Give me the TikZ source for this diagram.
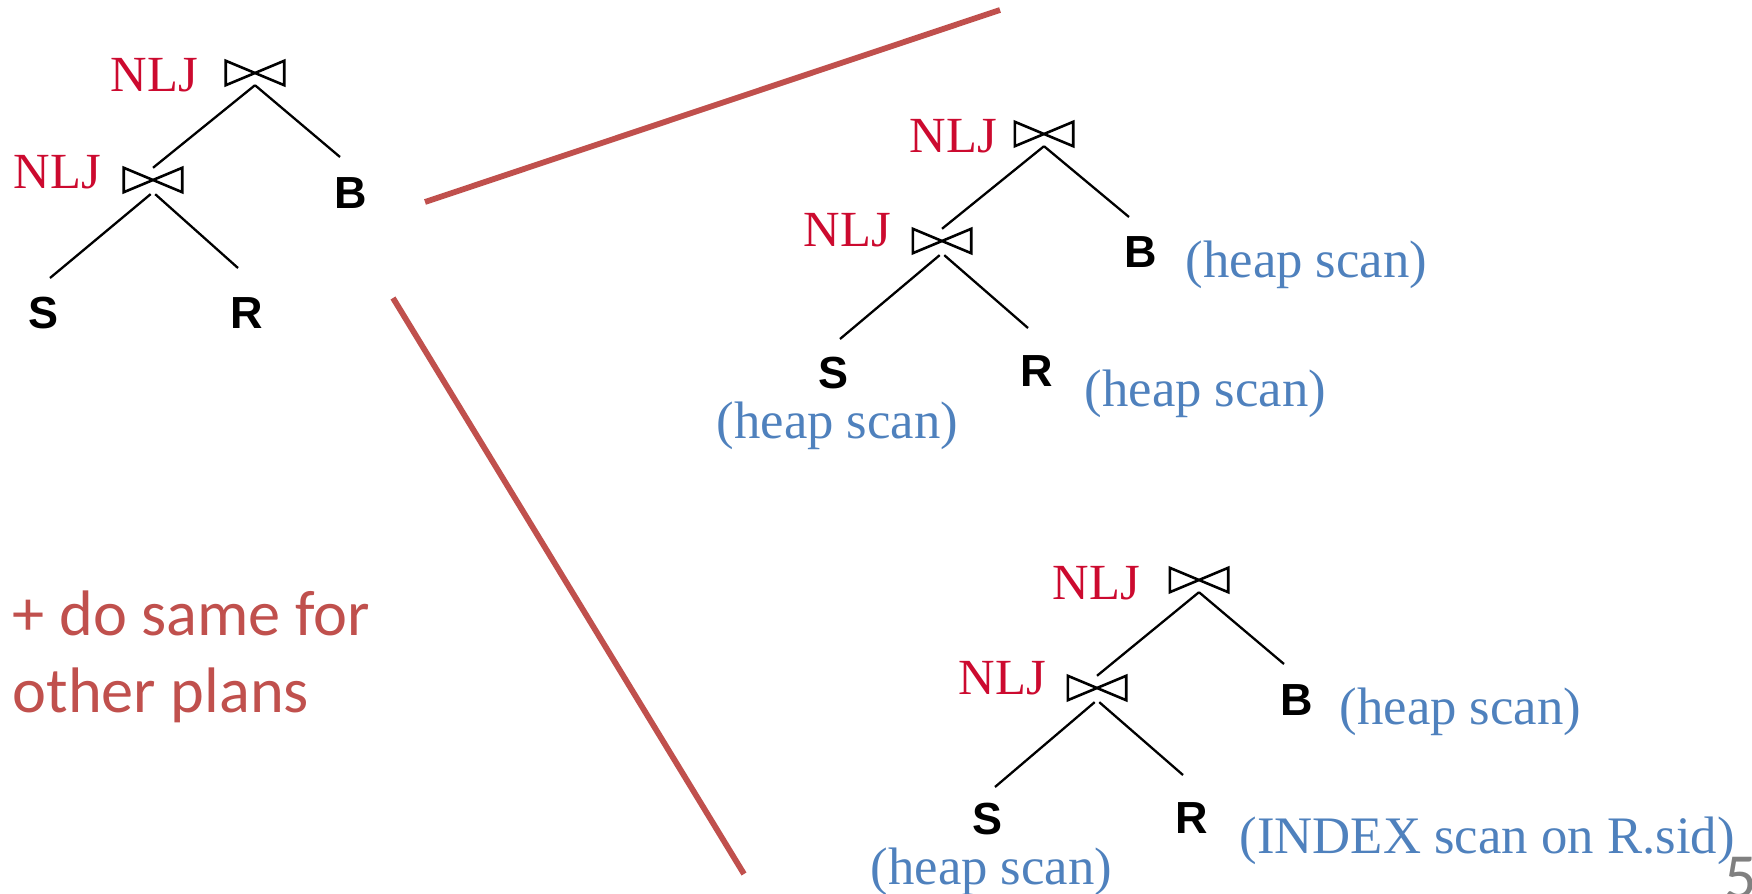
\documentclass[tikz,border=0pt]{standalone}
\usepackage{fontspec}
\setmainfont{Liberation Serif}
\newfontfamily\arialfont{Liberation Sans}
\newfontfamily\calibrifont{Carlito}
\definecolor{nljred}{HTML}{CC0A2F}
\definecolor{scanblue}{HTML}{4F81BD}
\definecolor{notered}{HTML}{C0504D}
\definecolor{pagegray}{HTML}{808080}

\begin{document}
\begin{tikzpicture}[x=0.1mm, y=-0.1mm,
    joinop/.style={minimum width=5.7mm, minimum height=2.3mm, inner sep=0pt},
    tie/.style={line width=0.26mm, line join=miter},
    branch/.style={line width=0.23mm},
    op/.style={text=nljred, inner sep=0pt, anchor=base west, font=\fontsize{14.4}{17}\selectfont},
    rel/.style={inner sep=0pt, anchor=base west, font=\arialfont\bfseries\fontsize{12.8}{15}\selectfont},
    scan/.style={text=scanblue, inner sep=0pt, anchor=base west, font=\fontsize{15}{18}\selectfont},
    note/.style={text=notered, inner sep=0pt, anchor=base west, font=\calibrifont\fontsize{18.3}{22}\selectfont},
    zoomline/.style={notered, line width=0.58mm}]

    \useasboundingbox (0,0) rectangle (1752,894);

    % plan to expand
    \node[joinop] (topA) at (255,73) {};
    \node[joinop] (lowA) at (153,180) {};
    \node[op] (opA1) at (110,91) {NLJ};
    \node[op] (opA2) at (13,188) {NLJ};
    \coordinate (endAB) at (340,157);
    \coordinate (endAS) at (50,278);
    \coordinate (endAR) at (238,268);
    \node[rel] (bA) at (334,208) {B};
    \node[rel] (sA) at (28,328) {S};
    \node[rel] (rA) at (230,328) {R};

    % all heap scans
    \node[joinop] (topB) at (1044,134) {};
    \node[joinop] (lowB) at (942,241) {};
    \node[op] (opB1) at (909,152) {NLJ};
    \node[op] (opB2) at (803,247) {NLJ};
    \coordinate (endBB) at (1129,217);
    \coordinate (endBS) at (840,339);
    \coordinate (endBR) at (1028,328);
    \node[rel] (bB) at (1124,268) {B};
    \node[rel] (sB) at (818,388) {S};
    \node[rel] (rB) at (1020,386) {R};
    \node[scan] (scanBB) at (1185,277) {(heap scan)};
    \node[scan] (scanBR) at (1084,406) {(heap scan)};
    \node[scan] (scanBS) at (716,438) {(heap scan)};

    % index scan on R
    \node[joinop] (topC) at (1199,580) {};
    \node[joinop] (lowC) at (1097,688) {};
    \node[op] (opC1) at (1052,599) {NLJ};
    \node[op] (opC2) at (958,694) {NLJ};
    \coordinate (endCB) at (1284,664);
    \coordinate (endCS) at (995,787);
    \coordinate (endCR) at (1183,775);
    \node[rel] (bC) at (1280,715) {B};
    \node[rel] (sC) at (972,834) {S};
    \node[rel] (rC) at (1175,833) {R};
    \node[scan] (scanCB) at (1339,724) {(heap scan)};
    \node[scan] (scanCS) at (870,884) {(heap scan)};
    \node[scan] (scanCR) at (1239,853) {(INDEX scan on R.sid)};

    \foreach \j in {topA,lowA,topB,lowB,topC,lowC}
        \draw[tie] (\j.south west) -- (\j.north east) -- (\j.south east) -- (\j.north west) -- cycle;

    \draw[branch] (topA.south) -- (lowA.north);
    \draw[branch] (topA.south) -- (endAB);
    \draw[branch, shorten <=0.3mm] (lowA.south) -- (endAS);
    \draw[branch, shorten <=0.3mm] (lowA.south) -- (endAR);
    \draw[branch] (topB.south) -- (lowB.north);
    \draw[branch] (topB.south) -- (endBB);
    \draw[branch, shorten <=0.3mm] (lowB.south) -- (endBS);
    \draw[branch, shorten <=0.3mm] (lowB.south) -- (endBR);
    \draw[branch] (topC.south) -- (lowC.north);
    \draw[branch] (topC.south) -- (endCB);
    \draw[branch, shorten <=0.3mm] (lowC.south) -- (endCS);
    \draw[branch, shorten <=0.3mm] (lowC.south) -- (endCR);

    % fan out to the two variants
    \coordinate (fanA) at (425,202);
    \coordinate (fanB) at (1000,10);
    \coordinate (fanC) at (393,298);
    \coordinate (fanD) at (744,874);
    \draw[zoomline] (fanA) -- (fanB);
    \draw[zoomline] (fanC) -- (fanD);

    \node[note] (more1) at (12,635) {+ do same for};
    \node[note] (more2) at (12,712) {other plans};
    \node[inner sep=0pt, anchor=base west, text=pagegray, font=\calibrifont\fontsize{18.3}{22}\selectfont] (page) at (1724,898) {5};
\end{tikzpicture}
\end{document}
